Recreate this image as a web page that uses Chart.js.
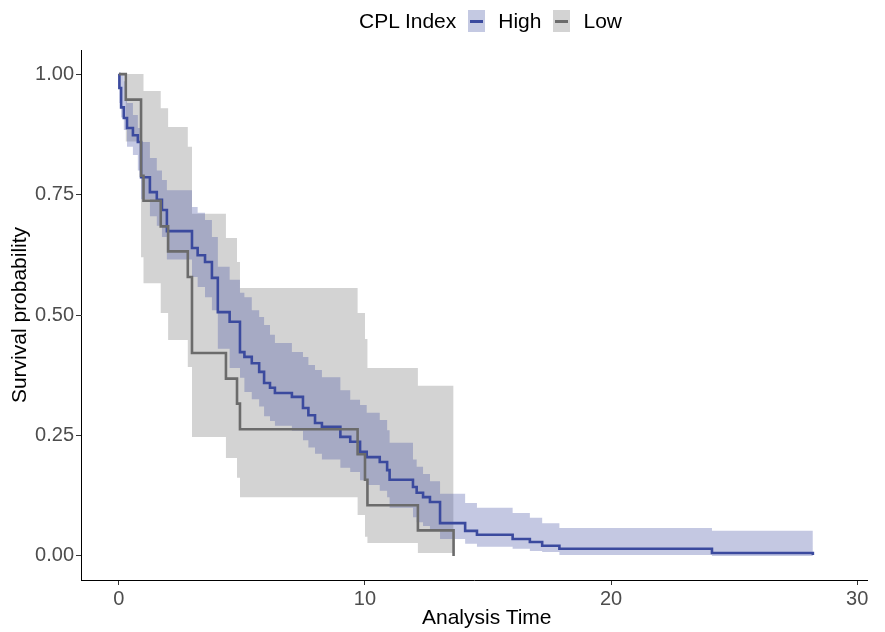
<!DOCTYPE html>
<html>
<head>
<meta charset="utf-8">
<title>Survival by CPL Index</title>
<script src="https://cdn.jsdelivr.net/npm/chart.js@4.4.1/dist/chart.umd.min.js"></script>
<style>
  body { margin: 0; background: #fff; font-family: "Liberation Sans", Arial, sans-serif; }
  #wrap { position: relative; width: 885px; height: 632px; }
  #legend { position: absolute; top: 10px; left: 359px; height: 22px; display: flex; align-items: center; font-size: 21px; color: #000; }
  #legend .key { width: 17px; height: 22px; position: relative; margin: 0 13px 0 12px; }
  #legend .key span { position: absolute; left: 2px; right: 2px; top: 10px; height: 3px; }
  #xtitle { position: absolute; left: 422px; top: 605px; font-size: 21px; line-height: 24px; color: #000; white-space: nowrap; }
</style>
</head>
<body>
<div id="wrap">
  <canvas id="myChart" width="885" height="632"></canvas>
  <div id="legend">
    <span>CPL Index</span>
    <div class="key" style="background: rgb(196,201,226)"><span style="background:#3b4a9e"></span></div>
    <span>High</span>
    <div class="key" style="background: rgb(211,211,211)"><span style="background:#6b6b6b"></span></div>
    <span>Low</span>
  </div>
  <div id="xtitle">Analysis Time</div>
</div>
<script>
// Kaplan-Meier steps, each value holds from its time until the next time
let lowTime  = [0, 0.28, 0.9, 1.0, 1.7, 2.0, 2.8, 2.97, 4.35, 4.8, 4.92, 9.7, 10.0, 10.1, 12.15, 13.6]
let lowSurv  = [1, 0.947, 0.789, 0.737, 0.684, 0.632, 0.579, 0.421, 0.368, 0.316, 0.263, 0.211, 0.158, 0.105, 0.053, 0]
let lowUpper = [1, 1, 1, 0.965, 0.929, 0.89, 0.849, 0.71, 0.66, 0.61, 0.556, 0.504, 0.45, 0.39, 0.353, 0.353]
let lowLower = [1, 0.86, 0.62, 0.566, 0.504, 0.448, 0.392, 0.247, 0.203, 0.162, 0.122, 0.085, 0.04, 0.027, 0.006, 0.006]

let highTime = [0, 0.02, 0.09, 0.2, 0.33, 0.57, 0.77, 0.9, 1.26, 1.54, 1.75, 1.95, 2.97, 3.2, 3.5, 3.78,
  4.02, 4.5, 4.92, 5.1, 5.4, 5.7, 5.9, 6.14, 6.34, 7.03, 7.48, 7.7, 7.97, 8.25, 9.0, 9.4, 9.8,
  10.07, 10.6, 10.9, 11.0, 11.95, 12.1, 12.36, 12.64, 13.05, 14.07, 14.55, 16.0, 16.7, 17.2, 17.9, 24.1, 28.2]
let highSurv = [1, 0.971, 0.931, 0.909, 0.888, 0.873, 0.859, 0.786, 0.755, 0.739, 0.718, 0.674, 0.639, 0.624, 0.61, 0.577,
  0.506, 0.486, 0.423, 0.413, 0.4, 0.382, 0.359, 0.349, 0.338, 0.33, 0.307, 0.292, 0.276, 0.268, 0.247, 0.237, 0.216,
  0.205, 0.195, 0.178, 0.158, 0.143, 0.131, 0.122, 0.112, 0.068, 0.052, 0.044, 0.035, 0.029, 0.021, 0.015, 0.006, 0.002]
let highUpper = [1, 1, 1, 0.985, 0.94, 0.915, 0.888, 0.859, 0.826, 0.8, 0.78, 0.759, 0.724, 0.712, 0.697, 0.662,
  0.6, 0.573, 0.546, 0.537, 0.51, 0.496, 0.479, 0.459, 0.442, 0.423, 0.413, 0.396, 0.386, 0.371, 0.344, 0.324, 0.313,
  0.297, 0.282, 0.261, 0.235, 0.2, 0.185, 0.17, 0.155, 0.129, 0.11, 0.1, 0.089, 0.079, 0.068, 0.058, 0.052, 0.052]
let highLower = [1, 0.94, 0.91, 0.884, 0.849, 0.832, 0.8, 0.74, 0.705, 0.685, 0.662, 0.615, 0.579, 0.558, 0.537, 0.51,
  0.43, 0.39, 0.37, 0.34, 0.325, 0.31, 0.29, 0.28, 0.27, 0.26, 0.24, 0.225, 0.212, 0.2, 0.183, 0.174, 0.157,
  0.147, 0.135, 0.122, 0.1, 0.08, 0.07, 0.062, 0.052, 0.035, 0.025, 0.019, 0.015, 0.01, 0.008, 0.002, 0, 0]

let xTicks = [0, 10, 20, 30]
let yTicks = [0, 0.25, 0.5, 0.75, 1]
let yTickLabels = ["0.00", "0.25", "0.50", "0.75", "1.00"]

const highColor = "#3b4a9e"
const lowColor = "#6b6b6b"
const font = "'Liberation Sans', Arial, sans-serif"

function pts(times, vals) {
    return times.map((t, i) => ({ x: t, y: vals[i] }))
}

function band(data, color, fill) {
    return { data: data, stepped: true, borderWidth: 0, pointRadius: 0, backgroundColor: color, fill: fill }
}

const ctx = document.getElementById('myChart')

new Chart(ctx, {
    type: 'line',
    data: {
        datasets: [
            { label: 'Low', data: pts(lowTime, lowSurv), stepped: true, borderColor: lowColor, borderWidth: 2.6, pointRadius: 0, fill: false },
            { label: 'High', data: pts(highTime, highSurv), stepped: true, borderColor: highColor, borderWidth: 2.6, pointRadius: 0, fill: false },
            band(pts(highTime, highUpper), 'rgba(59,74,158,0.3)', '+1'),
            band(pts(highTime, highLower), 'rgba(0,0,0,0)', false),
            band(pts(lowTime, lowUpper), 'rgba(108,108,108,0.3)', '+1'),
            band(pts(lowTime, lowLower), 'rgba(0,0,0,0)', false)
        ]
    },
    options: {
        responsive: false,
        animation: false,
        devicePixelRatio: 1,
        layout: { padding: { top: 50, right: 18, left: 0, bottom: 0 } },
        plugins: { legend: { display: false }, tooltip: { enabled: false } },
        scales: {
            x: {
                type: 'linear',
                min: -1.54,
                max: 30.4,
                afterBuildTicks: (s) => { s.ticks = xTicks.map(v => ({ value: v })) },
                afterFit: (s) => { s.height = 52 },
                grid: { drawOnChartArea: false, drawTicks: true, tickLength: 5, color: '#333' },
                border: { display: true, color: '#000', width: 1 },
                ticks: { color: '#4d4d4d', font: { family: font, size: 20 }, padding: 2, maxRotation: 0 }
            },
            y: {
                type: 'linear',
                min: -0.05,
                max: 1.05,
                afterBuildTicks: (s) => { s.ticks = yTicks.map(v => ({ value: v })) },
                afterFit: (s) => { s.width = 81 },
                grid: { drawOnChartArea: false, drawTicks: true, tickLength: 5, color: '#333' },
                border: { display: true, color: '#000', width: 1 },
                ticks: {
                    color: '#4d4d4d', font: { family: font, size: 20 }, padding: 2,
                    callback: (v, i) => yTickLabels[i]
                },
                title: { display: true, text: 'Survival probability', color: '#000', font: { family: font, size: 21 }, padding: { top: 8, bottom: 0 } }
            }
        }
    }
})
</script>
</body>
</html>
